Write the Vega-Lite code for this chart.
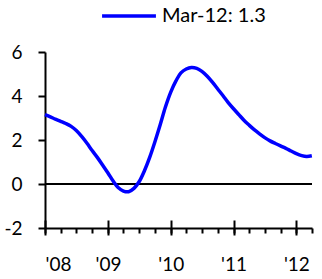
{
  "$schema": "https://vega.github.io/schema/vega-lite/v6.json",
  "width": 267,
  "height": 176,
  "autosize": {"type": "none"},
  "padding": {"left": 45, "top": 52, "right": 10, "bottom": 51},
  "background": "white",
  "config": {
    "view": {"stroke": null},
    "font": "Lato",
    "axis": {"labelFont": "Lato", "labelFontSize": 19, "labelColor": "black", "domainColor": "black", "tickColor": "black", "domainWidth": 2, "tickWidth": 2, "grid": false, "title": null},
    "legend": {"labelFont": "Lato", "labelFontSize": 20, "labelColor": "black"}
  },
  "data": {"values": [
    {"date": "2008-01-01", "value": 3.15, "series": "Mar-12: 1.3"},
    {"date": "2008-02-01", "value": 3.05, "series": "Mar-12: 1.3"},
    {"date": "2008-03-01", "value": 2.95, "series": "Mar-12: 1.3"},
    {"date": "2008-04-01", "value": 2.85, "series": "Mar-12: 1.3"},
    {"date": "2008-05-01", "value": 2.75, "series": "Mar-12: 1.3"},
    {"date": "2008-06-01", "value": 2.62, "series": "Mar-12: 1.3"},
    {"date": "2008-07-01", "value": 2.43, "series": "Mar-12: 1.3"},
    {"date": "2008-08-01", "value": 2.16, "series": "Mar-12: 1.3"},
    {"date": "2008-09-01", "value": 1.85, "series": "Mar-12: 1.3"},
    {"date": "2008-10-01", "value": 1.52, "series": "Mar-12: 1.3"},
    {"date": "2008-11-01", "value": 1.2, "series": "Mar-12: 1.3"},
    {"date": "2008-12-01", "value": 0.86, "series": "Mar-12: 1.3"},
    {"date": "2009-01-01", "value": 0.5, "series": "Mar-12: 1.3"},
    {"date": "2009-02-01", "value": 0.12, "series": "Mar-12: 1.3"},
    {"date": "2009-03-01", "value": -0.16, "series": "Mar-12: 1.3"},
    {"date": "2009-04-01", "value": -0.32, "series": "Mar-12: 1.3"},
    {"date": "2009-05-01", "value": -0.35, "series": "Mar-12: 1.3"},
    {"date": "2009-06-01", "value": -0.2, "series": "Mar-12: 1.3"},
    {"date": "2009-07-01", "value": 0.1, "series": "Mar-12: 1.3"},
    {"date": "2009-08-01", "value": 0.6, "series": "Mar-12: 1.3"},
    {"date": "2009-09-01", "value": 1.22, "series": "Mar-12: 1.3"},
    {"date": "2009-10-01", "value": 1.92, "series": "Mar-12: 1.3"},
    {"date": "2009-11-01", "value": 2.7, "series": "Mar-12: 1.3"},
    {"date": "2009-12-01", "value": 3.5, "series": "Mar-12: 1.3"},
    {"date": "2010-01-01", "value": 4.18, "series": "Mar-12: 1.3"},
    {"date": "2010-02-01", "value": 4.7, "series": "Mar-12: 1.3"},
    {"date": "2010-03-01", "value": 5.05, "series": "Mar-12: 1.3"},
    {"date": "2010-04-01", "value": 5.23, "series": "Mar-12: 1.3"},
    {"date": "2010-05-01", "value": 5.3, "series": "Mar-12: 1.3"},
    {"date": "2010-06-01", "value": 5.26, "series": "Mar-12: 1.3"},
    {"date": "2010-07-01", "value": 5.12, "series": "Mar-12: 1.3"},
    {"date": "2010-08-01", "value": 4.9, "series": "Mar-12: 1.3"},
    {"date": "2010-09-01", "value": 4.62, "series": "Mar-12: 1.3"},
    {"date": "2010-10-01", "value": 4.32, "series": "Mar-12: 1.3"},
    {"date": "2010-11-01", "value": 4.01, "series": "Mar-12: 1.3"},
    {"date": "2010-12-01", "value": 3.7, "series": "Mar-12: 1.3"},
    {"date": "2011-01-01", "value": 3.42, "series": "Mar-12: 1.3"},
    {"date": "2011-02-01", "value": 3.15, "series": "Mar-12: 1.3"},
    {"date": "2011-03-01", "value": 2.91, "series": "Mar-12: 1.3"},
    {"date": "2011-04-01", "value": 2.68, "series": "Mar-12: 1.3"},
    {"date": "2011-05-01", "value": 2.47, "series": "Mar-12: 1.3"},
    {"date": "2011-06-01", "value": 2.28, "series": "Mar-12: 1.3"},
    {"date": "2011-07-01", "value": 2.11, "series": "Mar-12: 1.3"},
    {"date": "2011-08-01", "value": 1.96, "series": "Mar-12: 1.3"},
    {"date": "2011-09-01", "value": 1.84, "series": "Mar-12: 1.3"},
    {"date": "2011-10-01", "value": 1.73, "series": "Mar-12: 1.3"},
    {"date": "2011-11-01", "value": 1.62, "series": "Mar-12: 1.3"},
    {"date": "2011-12-01", "value": 1.5, "series": "Mar-12: 1.3"},
    {"date": "2012-01-01", "value": 1.38, "series": "Mar-12: 1.3"},
    {"date": "2012-02-01", "value": 1.29, "series": "Mar-12: 1.3"},
    {"date": "2012-03-01", "value": 1.25, "series": "Mar-12: 1.3"},
    {"date": "2012-03-31", "value": 1.28, "series": "Mar-12: 1.3"}
  ]},
  "resolve": {"axis": {"x": "independent"}},
  "layer": [
    {
      "mark": {"type": "rule", "color": "black", "strokeWidth": 2},
      "encoding": {"y": {"datum": 0, "type": "quantitative"}}
    },
    {
      "mark": {"type": "line", "color": "#0000FF", "strokeWidth": 3.5, "interpolate": "catmull-rom"},
      "encoding": {
        "x": {"field": "date", "type": "temporal",
          "scale": {"domain": ["2008-01-01", "2012-04-01"], "nice": false},
          "axis": {"orient": "bottom", "domain": true, "ticks": false, "labels": false}},
        "y": {"field": "value", "type": "quantitative",
          "scale": {"domain": [-2, 6], "nice": false, "zero": false},
          "axis": {"values": [-2, 0, 2, 4, 6], "tickSize": 7, "labelPadding": 16, "labelExpr": "'' + datum.value"}},
        "color": {"field": "series", "type": "nominal",
          "scale": {"range": ["#0000FF"]},
          "legend": {"title": null, "orient": "none", "legendX": 55, "legendY": -65, "symbolType": "stroke", "symbolSize": 2900, "symbolStrokeWidth": 3.5, "labelOffset": 4}}
      }
    },
    {
      "mark": {"type": "line", "opacity": 0},
      "encoding": {
        "x": {"field": "date", "type": "temporal",
          "axis": {"orient": "bottom", "tickCount": {"interval": "month", "step": 3}, "tickSize": 5, "labels": false, "domain": false}},
        "y": {"field": "value", "type": "quantitative"}
      }
    },
    {
      "mark": {"type": "line", "opacity": 0},
      "encoding": {
        "x": {"field": "date", "type": "temporal",
          "axis": {"orient": "bottom", "tickCount": {"interval": "year", "step": 1}, "tickSize": 7, "labels": false, "domain": false}},
        "y": {"field": "value", "type": "quantitative"}
      }
    },
    {
      "mark": {"type": "line", "opacity": 0},
      "encoding": {
        "x": {"field": "date", "type": "temporal",
          "axis": {"orient": "bottom", "tickCount": {"interval": "year", "step": 1}, "tickSize": -8, "labels": false, "domain": false}},
        "y": {"field": "value", "type": "quantitative"}
      }
    },
    {
      "mark": {"type": "line", "opacity": 0},
      "encoding": {
        "x": {"field": "date", "type": "temporal",
          "axis": {"orient": "bottom", "tickCount": {"interval": "year", "step": 1}, "format": "'%y", "ticks": false, "domain": false, "offset": 25}},
        "y": {"field": "value", "type": "quantitative"}
      }
    }
  ]
}
